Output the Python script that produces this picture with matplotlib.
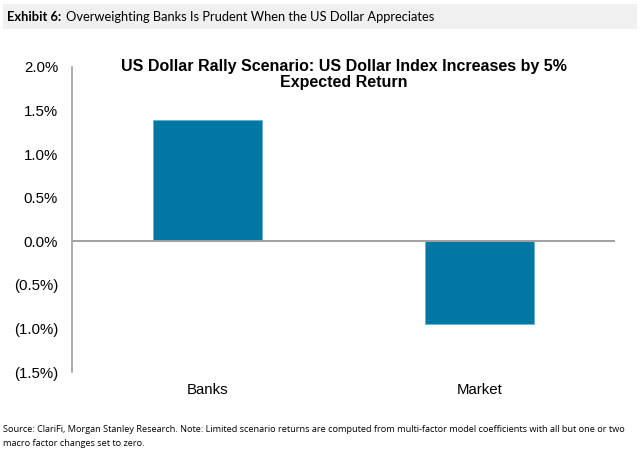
import matplotlib
matplotlib.use("Agg")
import matplotlib.pyplot as plt
from matplotlib.patches import Rectangle
from matplotlib.ticker import FuncFormatter

categories = ["Banks", "Market"]
expected_return = [1.39, -0.95]  # percent
y_ticks = [-1.5, -1.0, -0.5, 0.0, 0.5, 1.0, 1.5, 2.0]

BAR_COLOR = "#0078a3"
AXIS_COLOR = "#a0a0a0"


def pct(v, _pos=None):
    if v < 0:
        return "(%.1f%%)" % abs(v)
    return "%.1f%%" % v


fig = plt.figure(figsize=(6.4, 4.5), dpi=100)

# header band
fig.patches.append(Rectangle((0.005, 0.936), 0.99, 0.055, transform=fig.transFigure,
                             facecolor="#f0f0f0", edgecolor="none", zorder=0))
hdr = fig.text(0.011, 0.962, "Exhibit 6:", fontsize=9.3, fontweight="bold",
               family="Lato", va="center", ha="left")
fig.canvas.draw()
bb = hdr.get_window_extent().transformed(fig.transFigure.inverted())
fig.text(bb.x1 + 0.007, 0.962,
         "Overweighting Banks Is Prudent When the US Dollar Appreciates",
         fontsize=9.3, family="Lato", va="center", ha="left")

ax = fig.add_axes([0.1125, 0.1733, 0.8485, 0.678])
x = list(range(len(categories)))
ax.bar(x, expected_return, width=0.4, color=BAR_COLOR, edgecolor="#5fb4d6",
       linewidth=0.6, zorder=2)
ax.set_xlim(-0.5, 1.5)
ax.set_ylim(-1.5, 2.0)
ax.set_yticks(y_ticks)
ax.yaxis.set_major_formatter(FuncFormatter(pct))
ax.set_xticks([])

for s in ["top", "right", "bottom"]:
    ax.spines[s].set_visible(False)
ax.spines["left"].set_color(AXIS_COLOR)
ax.spines["left"].set_linewidth(1.2)
ax.axhline(0, color=AXIS_COLOR, linewidth=1.4, zorder=3)
ax.tick_params(axis="y", length=0, pad=10, labelsize=10.8)
for lbl in ax.get_yticklabels():
    lbl.set_family("Liberation Sans")

for xi, name in zip(x, categories):
    ax.text(xi, -0.06, name, transform=ax.get_xaxis_transform(),
            ha="center", va="center", fontsize=10.8, family="Liberation Sans")

fig.text(0.537, 0.834,
         "US Dollar Rally Scenario: US Dollar Index Increases by 5%\nExpected Return",
         ha="center", va="center", fontsize=11.5, fontweight="bold",
         family="Liberation Sans", linespacing=1.1)

fig.text(0.005, 0.045,
         "Source: ClariFi, Morgan Stanley Research. Note: Limited scenario returns are computed "
         "from multi-factor model coefficients with all but one or two",
         fontsize=6.6, family="Open Sans", ha="left", va="center")
fig.text(0.005, 0.014, "macro factor changes set to zero.",
         fontsize=6.6, family="Open Sans", ha="left", va="center")

fig.savefig("out.png", dpi=100)
